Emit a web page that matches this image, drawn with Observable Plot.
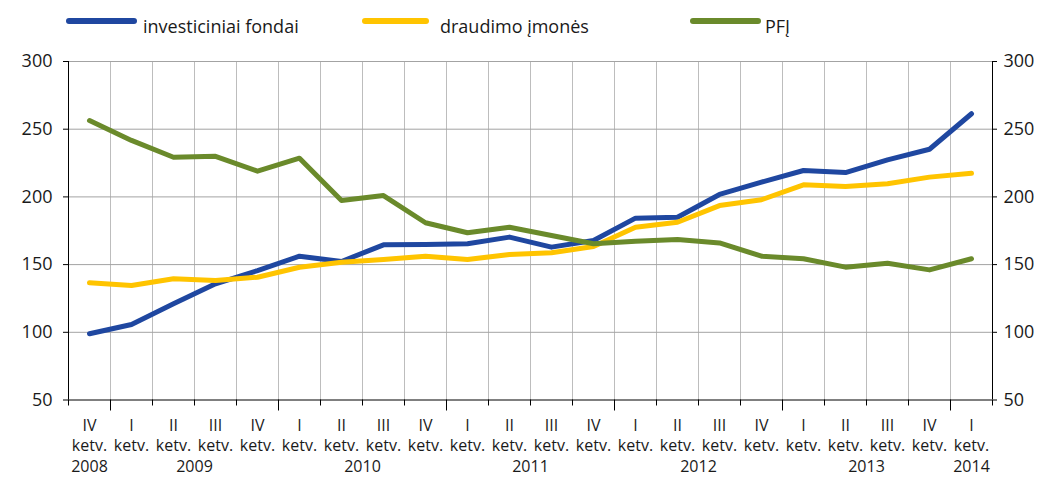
<!DOCTYPE html>
<html>
<head>
<meta charset="utf-8">
<script src="https://cdn.jsdelivr.net/npm/d3@7"></script>
<script src="https://cdn.jsdelivr.net/npm/@observablehq/plot@0.6"></script>
<style>
  html, body { margin: 0; padding: 0; background: #fff; }
  body { width: 1051px; height: 477px; overflow: hidden; font-family: "Open Sans", sans-serif; color: #1a1a1a; }
  #legend { display: block; height: 40px; width: 1051px; }
  #chart svg { display: block; }
</style>
</head>
<body>
<svg id="legend" width="1051" height="40"></svg>
<div id="chart"></div>
<script>
// ---- data ----
const quarters = ["IV","I","II","III","IV","I","II","III","IV","I","II","III","IV","I","II","III","IV","I","II","III","IV","I"];
const yearOf   = [2008,2009,2009,2009,2009,2010,2010,2010,2010,2011,2011,2011,2011,2012,2012,2012,2012,2013,2013,2013,2013,2014];
const seriesNames = ["investiciniai fondai", "draudimo įmonės", "PFĮ"];
const seriesColors = ["#1f47a0", "#ffc400", "#6a8a2b"];
const investiciniai = [98.9,105.8,121,135.8,145.6,156.2,152.3,164.6,164.8,165.4,170.3,162.9,167.8,184.3,185,201.8,210.9,219.5,218,227.4,235.2,261.4];
const draudimo      = [136.6,134.6,139.5,138.3,140.7,148,151.8,153.8,156.2,153.8,157.5,158.7,163.4,177.6,181.3,193.6,197.9,208.9,207.7,209.7,214.6,217.5];
const pfj           = [256.4,241.7,229.3,230,219,228.6,197.3,201,180.9,173.5,177.6,171.5,165.4,167.3,168.5,166,156.2,154.3,148.1,151,146.1,154.3];
const yTicks = [50,100,150,200,250,300];

// ---- derived tables ----
const values = [investiciniai, draudimo, pfj];
const rows = values.flatMap((arr, s) => arr.map((v, i) => ({i, v, s})));
const idx = quarters.map((q, i) => ({i, q, y: yearOf[i]}));
const years = Array.from(d3.group(idx, d => d.y), ([y, g]) => ({y, c: d3.mean(g, d => d.i)}));
const n = quarters.length;
const boundaries = d3.range(-0.5, n, 1);
const yearBounds = idx.filter((d, k) => k > 0 && d.q === "I").map(d => d.i - 0.5);
const quarterBounds = boundaries.filter(b => !yearBounds.includes(b));
const innerBounds = boundaries.filter(b => b > -0.5 && b < n - 0.5);

// ---- legend ----
const legendPos = [[69, 134, 143], [365, 426, 440], [693, 758, 765]];
const lg = d3.select("#legend");
seriesNames.forEach((name, k) => {
  const [a, b, t] = legendPos[k];
  lg.append("line").attr("x1", a).attr("x2", b).attr("y1", 21).attr("y2", 21)
    .attr("stroke", seriesColors[k]).attr("stroke-width", 6).attr("stroke-linecap", "round");
  lg.append("text").attr("x", t).attr("y", 33).attr("font-size", 18)
    .attr("font-family", "'Open Sans', sans-serif").attr("fill", "#1a1a1a").text(name);
});

// ---- chart ----
const lines = values.map((arr, s) =>
  Plot.line(rows.filter(d => d.s === s), {x: "i", y: "v", stroke: seriesColors[s], strokeWidth: 5, strokeLinejoin: "round", strokeLinecap: "round"})
);

const chart = Plot.plot({
  width: 1051,
  height: 437,
  marginTop: 21,
  marginBottom: 77.5,
  marginLeft: 68,
  marginRight: 59,
  style: {fontFamily: "'Open Sans', sans-serif", fontSize: "16px", color: "#1a1a1a", background: "#fff", overflow: "visible"},
  x: {type: "linear", domain: [-0.5, n - 0.5], axis: null},
  y: {domain: [50, 300], axis: null},
  marks: [
    Plot.ruleX(innerBounds, {stroke: "#bdbdbd", strokeWidth: 1}),
    Plot.ruleY(yTicks.filter(t => t > 50), {stroke: "#a3a3a3", strokeWidth: 1}),
    ...lines,
    Plot.ruleY([50], {stroke: "#000", strokeWidth: 1}),
    Plot.ruleX([-0.5, n - 0.5], {stroke: "#000", strokeWidth: 1}),
    Plot.axisX({ticks: quarterBounds, tickSize: 6, tickFormat: () => "", stroke: "#000"}),
    Plot.axisX({ticks: yearBounds, tickSize: 11, tickFormat: () => "", stroke: "#000"}),
    Plot.axisY({anchor: "left", ticks: yTicks, tickSize: 5, tickPadding: 11, label: null, fontSize: 18, stroke: "#000"}),
    Plot.axisY({anchor: "right", ticks: yTicks, tickSize: 4, tickPadding: 7, label: null, fontSize: 18, stroke: "#000"}),
    Plot.text(idx, {x: "i", text: d => d.q + "\nketv.", frameAnchor: "bottom", lineAnchor: "top", dy: 17, lineHeight: 1.25, fontSize: 16}),
    Plot.text(years, {x: "c", text: d => String(d.y), frameAnchor: "bottom", lineAnchor: "top", dy: 61, fontSize: 16})
  ]
});
document.getElementById("chart").appendChild(chart);
</script>
</body>
</html>
